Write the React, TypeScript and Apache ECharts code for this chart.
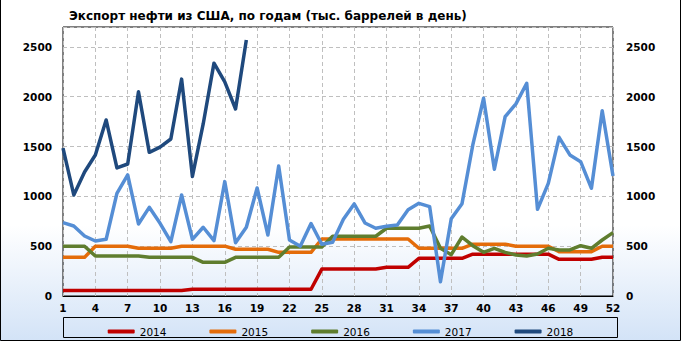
import React, { useEffect, useRef } from "react";
import * as echarts from "echarts";

const weeks = [
  "1", "2", "3", "4", "5", "6", "7", "8", "9", "10", "11", "12", "13",
  "14", "15", "16", "17", "18", "19", "20", "21", "22", "23", "24", "25", "26",
  "27", "28", "29", "30", "31", "32", "33", "34", "35", "36", "37", "38", "39",
  "40", "41", "42", "43", "44", "45", "46", "47", "48", "49", "50", "51", "52",
];

const y2014 = [
  55, 55, 55, 55, 55, 55, 55, 55, 55, 55, 55, 55,
  68, 68, 68, 68, 68, 68, 68, 68, 68, 68, 68, 68,
  270, 270, 270, 270, 270, 270, 288, 288, 288,
  378, 378, 378, 378, 378,
  420, 420, 420, 420, 420, 420, 420, 420,
  368, 368, 368, 368, 388, 388,
];

const y2015 = [
  388, 388, 388, 500, 500, 500, 500, 479, 479, 479, 479,
  500, 500, 500, 500, 500, 469, 469, 469, 469, 438, 438, 438, 438,
  572, 572, 572, 572, 572, 572, 572, 572, 572,
  479, 479, 479, 479, 479, 520, 520, 520, 520,
  500, 500, 500, 500, 445, 445, 445, 445, 500, 500,
];

const y2016 = [
  500, 500, 500, 401, 401, 401, 401, 401, 388, 388, 388, 388, 388,
  338, 338, 338, 388, 388, 388, 388, 388, 492, 492, 492, 492,
  600, 600, 600, 600, 600, 680, 680, 680, 680, 703,
  479, 415, 592, 505, 438, 479, 438, 412, 402, 422, 479, 462, 462, 505, 479, 562, 636,
];

const y2017 = [
  736, 703, 602, 552, 569, 1031, 1215, 723, 890, 730, 545, 1014, 569,
  690, 555, 1148, 535, 690, 1084, 612, 1305, 562, 500, 728, 520, 540,
  770, 924, 733, 680, 700, 713, 866, 930, 897, 144, 775, 927, 1516,
  1985, 1272, 1800, 1928, 2135, 870, 1131, 1593, 1416, 1348, 1081, 1860, 1205,
];

const y2018 = [
  1485, 1014, 1245, 1415, 1767, 1285, 1325, 2050, 1442, 1495, 1576, 2177,
  1200, 1727, 2337, 2150, 1877, 2570,
];

const seriesNames = ["2014", "2015", "2016", "2017", "2018"];
const seriesColors = ["#c00000", "#e46c0a", "#5f7d2e", "#558ed5", "#1f497d"];
const seriesData = [y2014, y2015, y2016, y2017, y2018];

const titleText = "Экспорт нефти из США, по годам (тыс. баррелей в день)";

export default function App() {
  const ref = useRef<HTMLDivElement>(null);
  useEffect(() => {
    const chart = echarts.init(ref.current!, null, { renderer: "svg" });
    const yAxisBase = {
      type: "value",
      min: 0,
      max: 2700,
      interval: 500,
      axisLine: { show: false },
      axisTick: { show: false },
      axisLabel: {
        color: "#000",
        fontFamily: "DejaVu Sans",
        fontWeight: "bold",
        fontSize: 10.5,
        formatter: (v: number) => (v % 500 === 0 ? String(v) : ""),
      },
    };
    chart.setOption({
      animation: false,
      backgroundColor: {
        type: "linear",
        x: 0,
        y: 0,
        x2: 0,
        y2: 1,
        colorStops: [
          { offset: 0, color: "#ffffff" },
          { offset: 0.66, color: "#ffffff" },
          { offset: 1, color: "#d3e3f7" },
        ],
      },
      title: {
        text: titleText,
        left: 64,
        top: 5,
        textStyle: {
          fontFamily: "DejaVu Sans",
          fontWeight: "bold",
          fontSize: 12,
          color: "#000",
        },
      },
      grid: {
        left: 63,
        right: 68,
        top: 27,
        bottom: 45,
        show: true,
        borderColor: "#000",
        borderWidth: 1,
        backgroundColor: "transparent",
      },
      legend: {
        data: seriesNames,
        left: "center",
        top: 321,
        icon: "roundRect",
        itemWidth: 27,
        itemHeight: 4,
        itemGap: 43,
        textStyle: { fontFamily: "DejaVu Sans", fontSize: 10.5, color: "#000" },
      },
      xAxis: {
        type: "category",
        boundaryGap: false,
        data: weeks,
        axisLine: { lineStyle: { color: "#000" } },
        axisTick: { show: false },
        axisLabel: {
          interval: 2,
          color: "#000",
          fontFamily: "DejaVu Sans",
          fontWeight: "bold",
          fontSize: 10.5,
          margin: 6,
        },
        splitLine: {
          show: true,
          interval: 2,
          lineStyle: { color: "#bfbfbf", type: [4, 3], width: 1 },
        },
      },
      yAxis: [
        {
          ...yAxisBase,
          position: "left",
          axisLabel: { ...yAxisBase.axisLabel, margin: 11 },
          splitLine: {
            show: true,
            lineStyle: { color: "#bfbfbf", type: [4, 3], width: 1 },
          },
        },
        {
          ...yAxisBase,
          position: "right",
          axisLabel: { ...yAxisBase.axisLabel, margin: 13 },
          splitLine: { show: false },
        },
      ],
      series: seriesNames.map((name, i) => ({
        name,
        type: "line",
        data: seriesData[i],
        symbol: "none",
        color: seriesColors[i],
        lineStyle: { width: 3.5, color: seriesColors[i], join: "round" },
      })),
      graphic: [
        {
          type: "rect",
          shape: { x: 63.5, y: 317.5, width: 554, height: 20 },
          style: { fill: "none", stroke: "#000", lineWidth: 1 },
          z: -1,
        },
        {
          type: "polyline",
          shape: { points: [[0.5, 0], [0.5, 340.5], [680.5, 340.5], [680.5, 0]] },
          style: { fill: "none", stroke: "#000", lineWidth: 1 },
        },
      ],
    });
    return () => chart.dispose();
  }, []);
  return (
    <div
      ref={ref}
      style={{ position: "absolute", left: 0, top: 0, width: 681, height: 341 }}
    />
  );
}
